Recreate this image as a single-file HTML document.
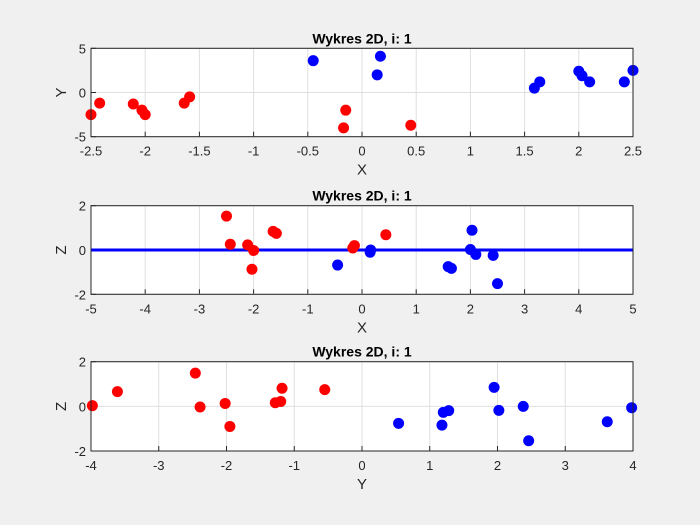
<!DOCTYPE html>
<html><head><meta charset="utf-8"><style>
html,body{margin:0;padding:0;background:#f0f0f0;}
svg{display:block;font-family:"Liberation Sans",Arial,sans-serif;}
</style></head><body>
<svg id="fig" width="700" height="525"></svg>
<script>
// Plot 1: X vs Y
const p1RedX=[-2.5,-2.42,-2.11,-2.03,-2.0,-1.64,-1.59,-0.15,-0.17,0.45];
const p1RedY=[-2.5,-1.2,-1.3,-2.0,-2.5,-1.2,-0.5,-2.0,-4.0,-3.7];
const p1BlueX=[-0.45,0.17,0.14,1.59,1.64,2.0,2.03,2.1,2.42,2.5];
const p1BlueY=[3.6,4.1,2.0,0.5,1.2,2.4,1.9,1.2,1.2,2.5];
// Plot 2: X vs Z
const p2RedX=[-2.5,-2.43,-2.11,-2.0,-2.03,-1.64,-1.58,-0.17,-0.14,0.44];
const p2RedZ=[1.53,0.26,0.23,-0.02,-0.87,0.84,0.75,0.09,0.2,0.69];
const p2BlueX=[-0.45,0.15,0.16,1.59,1.65,2.03,2.0,2.1,2.42,2.5];
const p2BlueZ=[-0.68,-0.1,0,-0.75,-0.83,0.89,0.02,-0.2,-0.24,-1.52];
const p2LineZ=0;
// Plot 3: Y vs Z
const p3RedY=[-3.98,-3.61,-2.46,-2.39,-2.02,-1.95,-1.28,-1.2,-1.18,-0.55];
const p3RedZ=[0.03,0.66,1.49,-0.03,0.13,-0.9,0.16,0.22,0.81,0.75];
const p3BlueY=[0.54,1.18,1.2,1.28,1.95,2.02,2.38,2.46,3.62,3.98];
const p3BlueZ=[-0.76,-0.84,-0.27,-0.19,0.85,-0.18,0,-1.54,-0.69,-0.06];
const ticks1X=["-2.5","-2","-1.5","-1","-0.5","0","0.5","1","1.5","2","2.5"];
const ticks1Y=["-5","0","5"];
const ticks2X=["-5","-4","-3","-2","-1","0","1","2","3","4","5"];
const ticksZ=["-2","0","2"];
const ticks3X=["-4","-3","-2","-1","0","1","2","3","4"];

const NS="http://www.w3.org/2000/svg";
const svg=document.getElementById('fig');
function mk(tag,attrs,parent,text){
  const e=document.createElementNS(NS,tag);
  for(const k in attrs)e.setAttribute(k,attrs[k]);
  if(text!==undefined)e.textContent=text;
  (parent||svg).appendChild(e);return e;
}
function panel(id,top,bottom,xmin,xmax,ymin,ymax,xt,yt,xlabel,ylabel,series,hline){
  const L=91,R=633;
  const g=mk('g',{});
  
  
  const sx=v=>L+(v-xmin)/(xmax-xmin)*(R-L);
  const sy=v=>bottom-(v-ymin)/(ymax-ymin)*(bottom-top);
  const bg=mk('rect',{x:L,y:top,width:R-L,height:bottom-top,fill:'#fff'},g);
  
  
  xt.forEach(t=>{const v=parseFloat(t),x=sx(v);
    mk('line',{x1:x,x2:x,y1:top,y2:bottom,stroke:'#dfdfdf','stroke-width':1},g);
    mk('line',{x1:x,x2:x,y1:bottom,y2:bottom-5,stroke:'#262626'},g);
    const tl=mk('text',{x:x,y:bottom+19,'text-anchor':'middle','font-size':13,fill:'#262626'},g,t);
    
    
  });
  yt.forEach(t=>{const v=parseFloat(t),y=sy(v);
    mk('line',{x1:L,x2:R,y1:y,y2:y,stroke:'#dfdfdf','stroke-width':1},g);
    mk('line',{x1:L,x2:L+5,y1:y,y2:y,stroke:'#262626'},g);
    const tl=mk('text',{x:L-5,y:y+5,'text-anchor':'end','font-size':13,fill:'#262626'},g,t);
    
    
  });
  if(hline!==undefined){
    const hl=mk('line',{x1:L,x2:R,y1:sy(hline),y2:sy(hline),stroke:'#0000ff','stroke-width':3},g);
    
    
  }
  series.forEach(s=>{
    s.x.forEach((v,i)=>{
      const c=mk('ellipse',{cx:sx(v),cy:sy(s.y[i]),rx:5.5,ry:5.5,fill:s.color},g);
      
      
    });
  });
  mk('rect',{x:L,y:top,width:R-L,height:bottom-top,fill:'none',stroke:'#262626','stroke-width':1},g);
  const ti=mk('text',{x:(L+R)/2,y:top-5,'text-anchor':'middle','font-size':14,'font-weight':'bold',fill:'#000'},g,'Wykres 2D, i: 1');
  
  
  const xl=mk('text',{x:(L+R)/2,y:bottom+38,'text-anchor':'middle','font-size':15,fill:'#262626'},g,xlabel);
  
  
  const cy=(top+bottom)/2;
  const yl=mk('text',{x:66,y:cy,'text-anchor':'middle','font-size':15,fill:'#262626',transform:`rotate(-90 66 ${cy})`},g,ylabel);
  
  
}
panel('panel-xy',48.3,136.7,-2.5,2.5,-5,5,ticks1X,ticks1Y,'X','Y',
  [{x:p1RedX,y:p1RedY,color:'#ff0000',name:'red-point'},{x:p1BlueX,y:p1BlueY,color:'#0000ff',name:'blue-point'}]);
panel('panel-xz',205.7,294.3,-5,5,-2,2,ticks2X,ticksZ,'X','Z',
  [{x:p2RedX,y:p2RedZ,color:'#ff0000',name:'red-point'},{x:p2BlueX,y:p2BlueZ,color:'#0000ff',name:'blue-point'}],p2LineZ);
panel('panel-yz',361.7,451,-4,4,-2,2,ticks3X,ticksZ,'Y','Z',
  [{x:p3RedY,y:p3RedZ,color:'#ff0000',name:'red-point'},{x:p3BlueY,y:p3BlueZ,color:'#0000ff',name:'blue-point'}]);
</script>
</body></html>
